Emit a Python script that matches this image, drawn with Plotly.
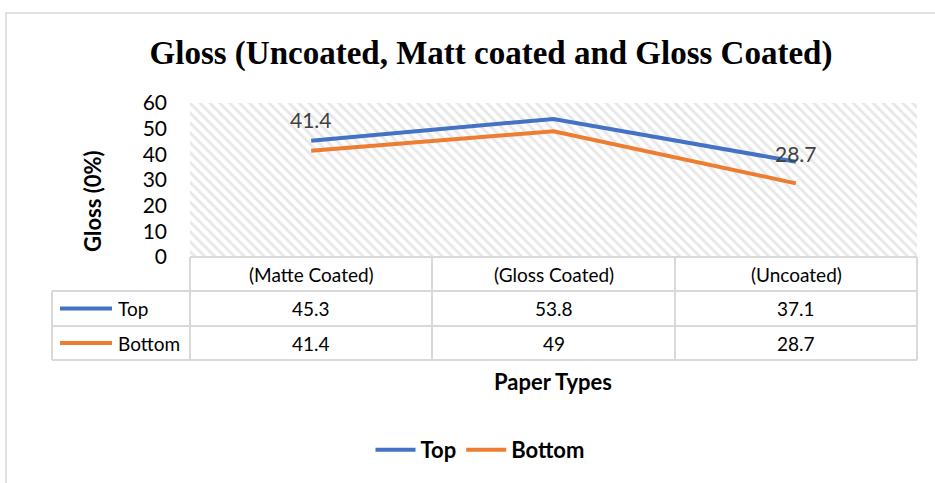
import plotly.graph_objects as go

categories = ["(Matte Coated)", "(Gloss Coated)", "(Uncoated)"]
series_names = ["Top", "Bottom"]
top_values = [45.3, 53.8, 37.1]
bottom_values = [41.4, 49, 28.7]
colors = ["#4472C4", "#ED7D31"]
# data labels shown on chart (Bottom series labels, as placed in the source)
label_texts = ["41.4", "49", "28.7"]
label_y = [53.4, 61.5, 40.5]
y_ticks = [0, 10, 20, 30, 40, 50, 60]

W, H = 935, 483
L, R, T, B = 190, 18, 103, 226
PW, PH = W - L - R, H - T - B

def px(x):
    return (x - L) / PW

def py(y):
    return (H - B - y) / PH

FONT = "Lato"
GRID = "#d9d9d9"
xs = list(range(len(categories)))

fig = go.Figure()
# hatched plot background
fig.add_trace(go.Scatter(
    x=[-0.5, len(categories) - 0.5, len(categories) - 0.5, -0.5, -0.5],
    y=[0, 0, 60, 60, 0], mode="lines", fill="toself",
    line=dict(width=0), fillcolor="rgba(0,0,0,0)",
    fillpattern=dict(shape="\\", fgcolor="#cfcfcf", bgcolor="white", size=7, solidity=0.4),
    hoverinfo="skip", showlegend=False))

for name, vals, c in zip(series_names, [top_values, bottom_values], colors):
    fig.add_trace(go.Scatter(x=xs, y=vals, mode="lines", name=name,
                             line=dict(color=c, width=4)))

annotations = []
for i, (t, yv) in enumerate(zip(label_texts, label_y)):
    annotations.append(dict(x=i, y=yv, xref="x", yref="y", text=t, showarrow=False,
                            xanchor="center", yanchor="middle",
                            font=dict(family=FONT, size=21, color="#404040")))

shapes = []
line_style = dict(color=GRID, width=2)
# table geometry (pixels)
row_y = [257, 291, 326, 360]
col_x = [52, 190, 432, 675, 917]
shapes.append(dict(type="line", xref="paper", yref="paper", x0=px(190), x1=px(917),
                   y0=py(257), y1=py(257), line=line_style))
for yy in row_y[1:]:
    shapes.append(dict(type="line", xref="paper", yref="paper", x0=px(52), x1=px(917),
                       y0=py(yy), y1=py(yy), line=line_style))
shapes.append(dict(type="line", xref="paper", yref="paper", x0=px(52), x1=px(52),
                   y0=py(291), y1=py(360), line=line_style))
for xx in col_x[1:]:
    shapes.append(dict(type="line", xref="paper", yref="paper", x0=px(xx), x1=px(xx),
                       y0=py(257), y1=py(360), line=line_style))
# outer chart border
shapes.append(dict(type="rect", xref="paper", yref="paper", x0=px(6), x1=px(945),
                   y0=py(13), y1=py(495), line=dict(color="#d9d9d9", width=1.5),
                   layer="below"))

TF = dict(family=FONT, size=19, color="#000")
row_centers = [274, 308.5, 343]
for i, cat in enumerate(categories):
    cx = (col_x[i + 1] + col_x[i + 2]) / 2
    annotations.append(dict(x=px(cx), y=py(row_centers[0]), xref="paper", yref="paper",
                            text=cat, showarrow=False, xanchor="center", yanchor="middle",
                            font=TF))
    for r, vals in enumerate([top_values, bottom_values]):
        annotations.append(dict(x=px(cx), y=py(row_centers[r + 1]), xref="paper", yref="paper",
                                text=str(vals[i]), showarrow=False, xanchor="center",
                                yanchor="middle", font=TF))
for r, (name, c) in enumerate(zip(series_names, colors)):
    yc = row_centers[r + 1]
    shapes.append(dict(type="line", xref="paper", yref="paper", x0=px(60), x1=px(112),
                       y0=py(yc), y1=py(yc), line=dict(color=c, width=4)))
    annotations.append(dict(x=px(116), y=py(yc), xref="paper", yref="paper", text=name,
                            showarrow=False, xanchor="left", yanchor="middle", font=TF))

annotations.append(dict(x=px(92), y=py(201), xref="paper", yref="paper", text="<b>Gloss (0%)</b>",
                        textangle=-90, showarrow=False, xanchor="center", yanchor="middle",
                        font=dict(family=FONT, size=22, color="#000")))
annotations.append(dict(x=px(553), y=py(381), xref="paper", yref="paper", text="<b>Paper Types</b>",
                        showarrow=False, xanchor="center", yanchor="middle",
                        font=dict(family=FONT, size=22, color="#000")))

fig.update_layout(
    width=W, height=H, margin=dict(l=L, r=R, t=T, b=B),
    paper_bgcolor="white", plot_bgcolor="white",
    title=dict(text="<b>Gloss (Uncoated, Matt coated and Gloss Coated)</b>",
               x=491 / W, xanchor="center", y=1 - 52 / H, yanchor="middle",
               font=dict(family="Liberation Serif", size=33, color="#000")),
    xaxis=dict(range=[-0.5, len(categories) - 0.5], tickvals=xs, showticklabels=False,
               showgrid=True, gridcolor=GRID, gridwidth=1.5, zeroline=False,
               minor=dict(tickvals=[-0.5, 0.5, 1.5, 2.5], showgrid=True, gridcolor=GRID, gridwidth=1.5),
               showline=False, fixedrange=True),
    yaxis=dict(range=[0, 60], tickvals=y_ticks, showgrid=True, gridcolor=GRID, gridwidth=1.5,
               zeroline=False, showline=False, ticklabelstandoff=22,
               tickfont=dict(family=FONT, size=21, color="#000"), fixedrange=True),
    legend=dict(orientation="h", x=px(480), y=py(450), xanchor="center", yanchor="middle",
                font=dict(family=FONT, size=22, color="#000", weight="bold"),
                itemwidth=40, tracegroupgap=0),
    shapes=shapes, annotations=annotations, showlegend=True,
)

fig.write_html("out.html")
